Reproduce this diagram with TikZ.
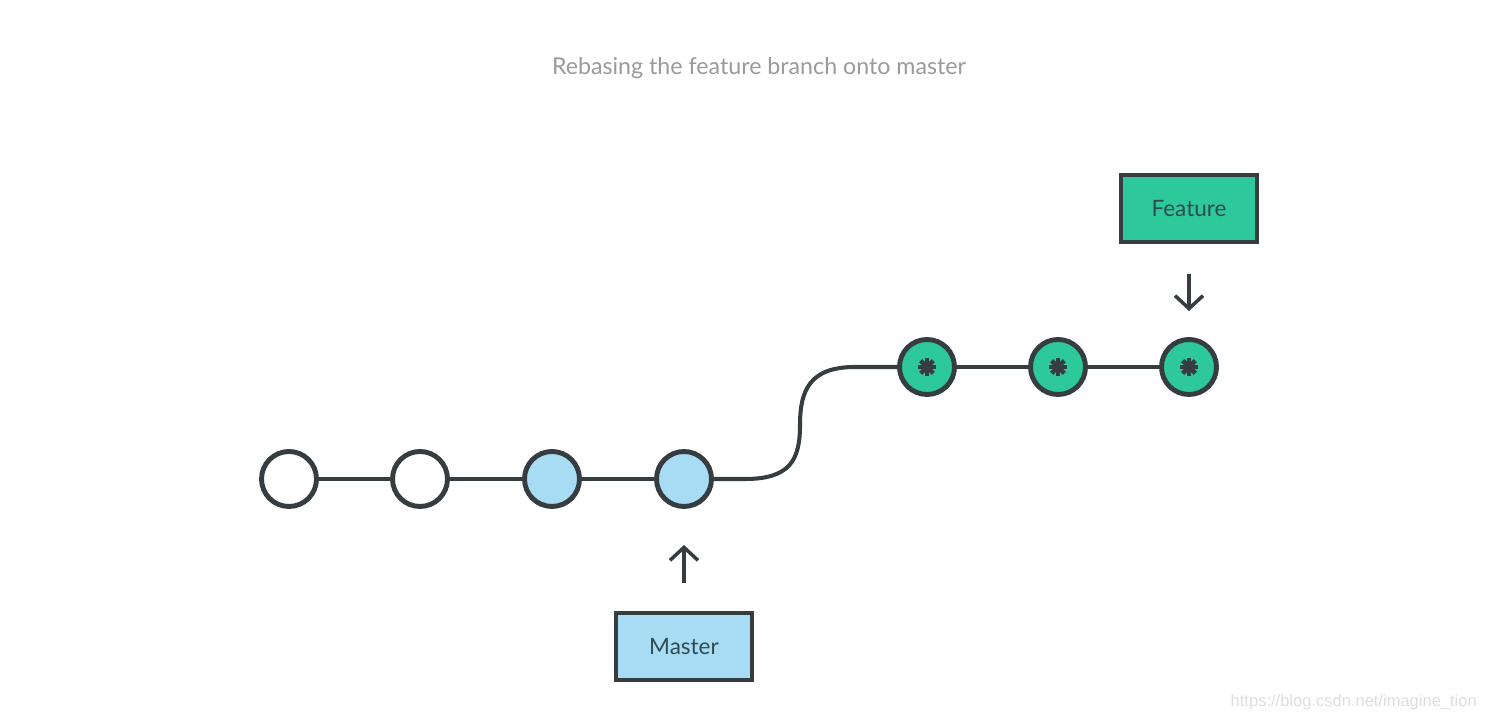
\documentclass[tikz,border=0pt]{standalone}
\usepackage{fontspec}
\setmainfont{Lato}
\newfontfamily\wmfont{Liberation Sans}
\usetikzlibrary{arrows.meta, positioning}
\definecolor{gitdark}{HTML}{363D41}
\definecolor{gitgreen}{HTML}{2DC99B}
\definecolor{gitblue}{HTML}{A8DCF5}
\definecolor{gittitle}{HTML}{9A9A9A}
\definecolor{gitlabel}{HTML}{2F4B52}

\begin{document}
\begin{tikzpicture}[
    commit/.style={circle, draw=gitdark, line width=2.8pt, minimum size=1.1cm, inner sep=0pt},
    branchbox/.style={draw=gitdark, line width=2.4pt, minimum width=2.72cm, minimum height=1.34cm,
      font=\fontsize{12.8}{14}\selectfont, text=gitlabel},
    branch/.style={gitdark, line width=2.3pt},
    pointer/.style={gitdark, line width=2pt, -{Straight Barb[length=2.6mm, width=5.6mm]}}
  ]
  \useasboundingbox (0,0) rectangle (29.78,14.38);

  \node[font=\fontsize{13.2}{15}\selectfont, text=gittitle] (title) at (15.18,13.02) {Rebasing the feature branch onto master};

  % master commits
  \node[commit, fill=white] (c1) at (5.78,4.8) {};
  \node[commit, fill=white] (c2) at (8.4,4.8) {};
  \node[commit, fill=gitblue] (c3) at (11.04,4.8) {};
  \node[commit, fill=gitblue] (c4) at (13.68,4.8) {};

  % rebased feature commits
  \node[commit, fill=gitgreen] (f1) at (18.54,7.04) {};
  \node[commit, fill=gitgreen] (f2) at (21.16,7.04) {};
  \node[commit, fill=gitgreen] (f3) at (23.78,7.04) {};

  \foreach \f in {f1,f2,f3}
    \foreach \a in {0,45,90,135}
      \draw[gitdark, line width=2.6pt] (\f.center) ++(\a:0.18) -- ++(\a+180:0.36);

  % history
  \draw[branch] (c1) -- (c2);
  \draw[branch] (c2) -- (c3);
  \draw[branch] (c3) -- (c4);
  \draw[branch] (c4) -- (14.9,4.8) .. controls (15.8,4.8) and (16.0,5.18) .. (16.0,5.88)
    .. controls (16.0,6.58) and (16.2,7.04) .. (17.1,7.04) -- (f1);
  \draw[branch] (f1) -- (f2);
  \draw[branch] (f2) -- (f3);

  % branch labels
  \node[branchbox, fill=gitgreen] (feature) at (23.78,10.21) {Feature};
  \node[branchbox, fill=gitblue] (master) at (13.68,1.45) {Master};

  \draw[pointer, shorten <=0.6cm, shorten >=0.52cm] (feature) -- (f3);
  \draw[pointer, shorten <=0.56cm, shorten >=0.72cm] (master) -- (c4);

  \node[anchor=east, font=\wmfont\fontsize{9.4}{11}\selectfont, text=black!13] (mark) at (29.66,0.34) {https://blog.csdn.net/imagine\_tion};
\end{tikzpicture}
\end{document}
